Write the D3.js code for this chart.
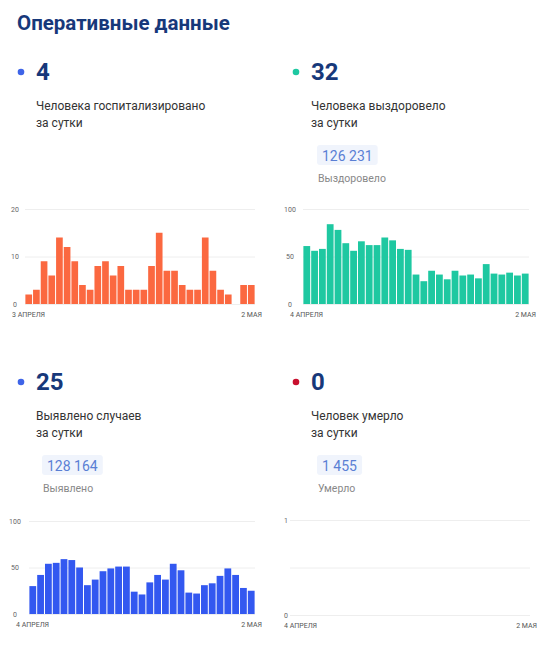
<!DOCTYPE html>
<html>
<head>
<meta charset="utf-8">
<script src="https://cdn.jsdelivr.net/npm/d3@7"></script>
<style>
  body { margin: 0; background: #fff; }
  text { font-family: Roboto, "Noto Sans", sans-serif; }
  .tick line { stroke: #eeeeee; }
  .tick text { fill: #666; font-size: 7px; }
</style>
</head>
<body>
<svg id="chart"></svg>
<script>
// daily values, one bar per day
const hospDaily = [2, 3, 9, 6, 14, 12, 9, 4, 3, 8, 9, 6, 8, 3, 3, 3, 8, 15, 7, 7, 4, 3, 3, 14, 7, 3, 2, 0, 4, 4];
const recoveredDaily = [61, 56, 58, 84, 78, 64, 56, 66, 62, 62, 70, 67, 58, 57, 31, 24, 35, 31, 26, 35, 30, 31, 27, 42, 32, 31, 33, 30, 32];
const casesDaily = [30, 42, 54, 55, 59, 58, 50, 31, 37, 46, 49, 51, 51, 24, 21, 34, 42, 37, 54, 47, 23, 22, 31, 33, 41, 49, 42, 28, 25];
const deathsDaily = [0, 0, 0, 0, 0, 0, 0, 0, 0, 0, 0, 0, 0, 0, 0, 0, 0, 0, 0, 0, 0, 0, 0, 0, 0, 0, 0, 0, 0];

const titles = ['Человека госпитализировано', 'Человека выздоровело', 'Выявлено случаев', 'Человек умерло'];
const subTitle = 'за сутки';
const todayValues = ['4', '32', '25', '0'];
const totalValues = [null, '126 231', '128 164', '1 455'];
const totalLabels = [null, 'Выздоровело', 'Выявлено', 'Умерло'];
const startLabels = ['3 АПРЕЛЯ', '4 АПРЕЛЯ', '4 АПРЕЛЯ', '4 АПРЕЛЯ'];
const endLabel = '2 МАЯ';
const yMax = [20, 100, 100, 1];
const yTicks = [[0, 10, 20], [0, 50, 100], [0, 50, 100], [0, 0.5, 1]];

const width = 553, height = 650;

const svg = d3.select('#chart')
    .attr('width', width)
    .attr('height', height);

svg.append('text')
    .attr('x', 17)
    .attr('y', 30)
    .attr('fill', '#17387a')
    .attr('font-size', 20.5)
    .attr('font-weight', 700)
    .text('Оперативные данные');

const panels = [
    { values: hospDaily, color: '#fb6840', dot: '#3e64e8', left: 0, top: 0, plot: [25, 255], yTop: 209, yBase: 304, labelDx: -13, tickDx: -10 },
    { values: recoveredDaily, color: '#1ec8a1', dot: '#1ec8a1', left: 275, top: 0, plot: [303, 529], yTop: 209, yBase: 304, labelDx: -13, tickDx: -13 },
    { values: casesDaily, color: '#3358f0', dot: '#3e64e8', left: 0, top: 310, plot: [29, 255], yTop: 521, yBase: 614, labelDx: -13, tickDx: -14 },
    { values: deathsDaily, color: '#cc1f2d', dot: '#c8102e', left: 275, top: 310, plot: [290, 530], yTop: 520, yBase: 615, labelDx: -6, tickDx: -4 }
];

panels.forEach((p, i) => {
    const g = svg.append('g');
    const ox = p.left, oy = p.top;

    // header
    g.append('circle')
        .attr('cx', ox + 21)
        .attr('cy', oy + 72)
        .attr('r', 3.3)
        .attr('fill', p.dot);

    g.append('text')
        .attr('x', ox + 36)
        .attr('y', oy + 80)
        .attr('fill', '#17387a')
        .attr('font-size', 24)
        .attr('font-weight', 700)
        .text(todayValues[i]);

    g.append('text')
        .attr('x', ox + 36)
        .attr('y', oy + 110)
        .attr('fill', '#333')
        .attr('font-size', 12)
        .text(titles[i]);

    g.append('text')
        .attr('x', ox + 36)
        .attr('y', oy + 127)
        .attr('fill', '#333')
        .attr('font-size', 12)
        .text(subTitle);

    if (totalValues[i]) {
        const t = g.append('text')
            .attr('x', ox + 47)
            .attr('y', oy + 160.5)
            .attr('fill', '#5a7fd4')
            .attr('font-size', 14)
            .text(totalValues[i]);
        const bb = t.node().getBBox();
        g.insert('rect', 'text')
            .attr('x', bb.x - 5)
            .attr('y', oy + 145)
            .attr('width', bb.width + 10)
            .attr('height', 20)
            .attr('rx', 3)
            .attr('fill', '#f0f4fc');

        g.append('text')
            .attr('x', ox + 43)
            .attr('y', oy + 182)
            .attr('fill', '#888')
            .attr('font-size', 10.5)
            .text(totalLabels[i]);
    }

    // bars
    const x = d3.scaleBand()
        .domain(d3.range(p.values.length))
        .range(p.plot)
        .paddingInner(0.13)
        .paddingOuter(0.05);

    const y = d3.scaleLinear()
        .domain([0, yMax[i]])
        .range([p.yBase, p.yTop]);

    const yAxis = d3.axisLeft(y)
        .tickValues(yTicks[i])
        .tickSize(-(p.plot[1] - p.plot[0]))
        .tickPadding(0)
        .tickFormat(d => Number.isInteger(d) ? d : '');

    const yAxisG = g.append('g')
        .attr('transform', `translate(${p.plot[0]},0)`)
        .call(yAxis);
    yAxisG.select('.domain').remove();
    yAxisG.selectAll('.tick text')
        .attr('text-anchor', 'middle')
        .attr('x', p.tickDx)
        .attr('dy', '0.32em');

    g.selectAll('.bar')
        .data(p.values)
        .join('rect')
        .attr('class', 'bar')
        .attr('x', (d, j) => x(j))
        .attr('y', d => y(d))
        .attr('width', x.bandwidth())
        .attr('height', d => y(0) - y(d))
        .attr('fill', p.color);

    // date labels
    g.append('text')
        .attr('x', p.plot[0] + p.labelDx)
        .attr('y', p.yBase + 13)
        .attr('fill', '#555')
        .attr('font-size', 7)
        .text(startLabels[i]);

    g.append('text')
        .attr('x', p.plot[1] + 7)
        .attr('y', p.yBase + 13)
        .attr('text-anchor', 'end')
        .attr('fill', '#555')
        .attr('font-size', 7)
        .text(endLabel);
});
</script>
</body>
</html>
